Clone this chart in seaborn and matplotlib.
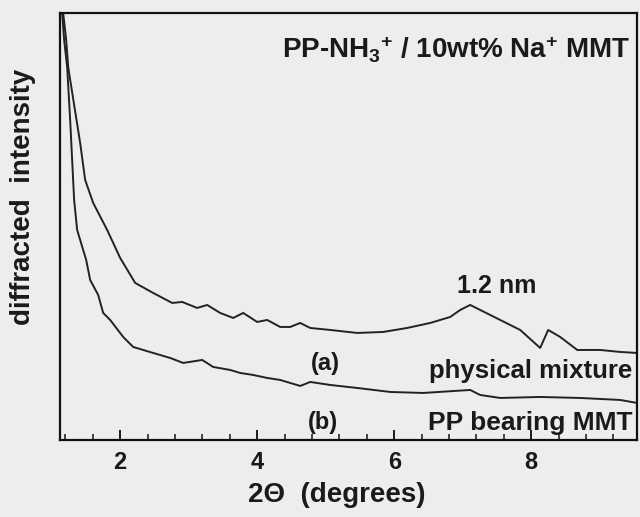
import numpy as np
import pandas as pd
import matplotlib
matplotlib.use('Agg')
import matplotlib.pyplot as plt
from matplotlib.ticker import MultipleLocator
import seaborn as sns

# curve (a): physical mixture
two_theta_a = [1.168, 1.212, 1.241, 1.328, 1.416, 1.489, 1.606, 1.810, 2.0, 2.219,
               2.482, 2.759, 2.905, 3.124, 3.270, 3.460, 3.650, 3.796, 4.0, 4.146,
               4.336, 4.482, 4.628, 4.774, 5.066, 5.460, 5.839, 6.190, 6.526, 6.818,
               6.964, 7.109, 7.255, 7.547, 7.839, 8.131, 8.248, 8.423, 8.672, 9.007,
               9.299, 9.547]
intensity_a = [427, 400, 373, 335, 297, 260, 237, 210, 182, 157,
               147, 137, 138, 132, 135, 127, 122, 127, 118, 120,
               113, 113, 117, 112, 110, 107, 108, 112, 117, 123,
               130, 135, 130, 120, 110, 92, 110, 103, 90, 90,
               88, 87]

# curve (b): PP bearing MMT
two_theta_b = [1.153, 1.182, 1.226, 1.270, 1.328, 1.372, 1.504, 1.562, 1.679, 1.752,
               1.854, 2.044, 2.190, 2.482, 2.730, 2.920, 3.197, 3.358, 3.606, 3.752,
               3.942, 4.146, 4.336, 4.628, 4.774, 5.066, 5.460, 5.942, 6.423, 7.109,
               7.255, 7.547, 8.131, 8.715, 9.299, 9.547]
intensity_b = [427, 400, 373, 320, 240, 210, 180, 160, 145, 127,
               120, 103, 93, 87, 82, 77, 80, 73, 70, 67,
               65, 62, 60, 54, 58, 55, 52, 48, 47, 50,
               45, 42, 43, 42, 40, 37]

df = pd.concat([
    pd.DataFrame({'two_theta': two_theta_a, 'intensity': intensity_a, 'sample': 'a'}),
    pd.DataFrame({'two_theta': two_theta_b, 'intensity': intensity_b, 'sample': 'b'}),
])

sns.set_theme(style='ticks')
plt.rcParams['font.family'] = ['Liberation Sans', 'DejaVu Sans']
plt.rcParams['font.weight'] = 'bold'
plt.rcParams['axes.labelweight'] = 'bold'
plt.rcParams['mathtext.fontset'] = 'custom'
plt.rcParams['mathtext.rm'] = 'Liberation Sans:bold'
plt.rcParams['mathtext.bf'] = 'Liberation Sans:bold'
plt.rcParams['mathtext.it'] = 'Liberation Sans:bold'
plt.rcParams['mathtext.default'] = 'rm'
ink = '#1a1a1a'
paper = '#eceeec'

fig = plt.figure(figsize=(6.4, 5.17), dpi=100, facecolor=paper)
ax = fig.add_axes([0.094, 0.149, 0.9016, 0.826])
ax.set_facecolor(paper)

sns.lineplot(data=df, x='two_theta', y='intensity', units='sample', estimator=None,
             sort=False, color='#222222', linewidth=1.4, ax=ax)

ax.set_xlim(1.124, 9.547)
ax.set_ylim(0, 427)
ax.set_yticks([])
ax.xaxis.set_major_locator(MultipleLocator(2))
ax.xaxis.set_minor_locator(MultipleLocator(0.4))
ax.tick_params(axis='x', which='major', direction='in', length=7, width=1.4,
               labelsize=17, pad=8, colors=ink)
ax.tick_params(axis='x', which='minor', direction='in', length=4, width=1.2)
for s in ax.spines.values():
    s.set_linewidth(1.6)
    s.set_color('#111111')

ax.set_xlabel('2\u0398  (degrees)', fontsize=20, color=ink)
ax.xaxis.set_label_coords(0.48, -0.098)
ax.set_ylabel('diffracted  intensity', fontsize=20, color=ink)
ax.yaxis.set_label_coords(-0.042, 0.57)

ax.text(9.45, 390, r'PP-NH$_3$$^{+}$ / 10wt% Na$^{+}$ MMT', ha='right', va='center',
        fontsize=20, color=ink)
ax.text(7.49, 154, '1.2 nm', ha='center', va='center', fontsize=18, color=ink)
ax.text(4.99, 76, '(a)', ha='center', va='center', fontsize=17, color=ink)
ax.text(9.47, 69, 'physical mixture', ha='right', va='center', fontsize=18.5, color=ink)
ax.text(4.96, 17, '(b)', ha='center', va='center', fontsize=17, color=ink)
ax.text(9.48, 17, 'PP bearing MMT', ha='right', va='center', fontsize=19, color=ink)

fig.savefig('out.png', dpi=100, facecolor=paper)
